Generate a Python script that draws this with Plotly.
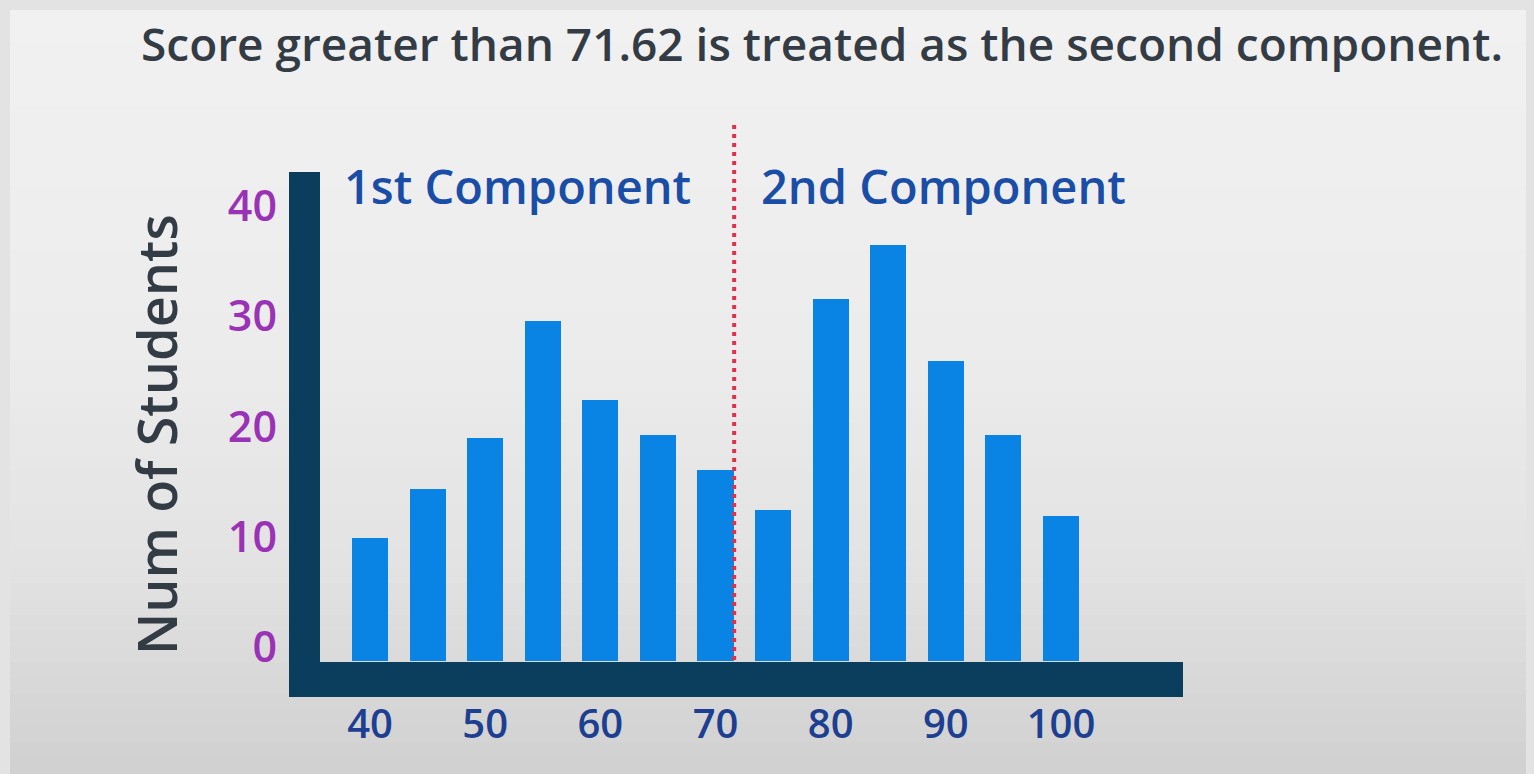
import plotly.graph_objects as go

# ---------------- data ----------------
scores = [40, 45, 50, 55, 60, 65, 70, 75, 80, 85, 90, 95, 100]
students = [9.9, 14.3, 19.0, 29.6, 22.4, 19.2, 16.1, 12.4, 31.6, 36.5, 25.9, 19.2, 11.9]
x_ticks = [40, 50, 60, 70, 80, 90, 100]
y_ticks = [0, 10, 20, 30, 40]
threshold = 71.62
title_text = "Score greater than 71.62 is treated as the second component."
component_labels = ["1st Component", "2nd Component"]
y_title = "Num of Students"

# ---------------- layout geometry (page pixels) ----------------
W, H = 1534, 774
OFF = 8                      # default body margin of the html page
FW, FH = W - OFF, H - OFF    # figure size
L, R, T, B = 289, 1183, 110, 697   # plot area in page pixels
pw, ph = R - L, B - T


def px(xp):
    return (xp - L) / pw


def py(yp):
    return (B - yp) / ph


FONT = "Open Sans"
BAR_COLOR = "#0a84e4"
AXIS_COLOR = "#0b3d5d"
BAR_BASE = -1.27   # bars start just under the zero line, at the axis bar

fig = go.Figure()
fig.add_trace(go.Bar(
    x=scores, y=[v - BAR_BASE for v in students], base=BAR_BASE, width=3.13,
    marker=dict(color=BAR_COLOR, line=dict(width=0)),
    customdata=students, hovertemplate="%{x}: %{customdata}<extra></extra>",
))

shapes = []
# background paper gradient (bands)
stops = [(10, 241), (350, 236), (560, 227), (774, 208)]
nb = 48
for i in range(nb):
    y0p = 10 + (H - 10) * i / nb
    y1p = 10 + (H - 10) * (i + 1) / nb
    ym = (y0p + y1p) / 2
    for (a, ga), (b, gb) in zip(stops[:-1], stops[1:]):
        if a <= ym <= b:
            g = round(ga + (gb - ga) * (ym - a) / (b - a))
            break
    shapes.append(dict(type="rect", xref="paper", yref="paper", layer="below",
                       x0=px(10), x1=px(W + 5), y0=py(y1p + 0.6), y1=py(y0p),
                       fillcolor=f"rgb({g},{g},{g})", line=dict(width=0)))
# thick axes
shapes.append(dict(type="rect", xref="paper", yref="paper", layer="above",
                   x0=0, x1=px(320), y0=0, y1=py(172),
                   fillcolor=AXIS_COLOR, line=dict(width=0)))
shapes.append(dict(type="rect", xref="paper", yref="paper", layer="above",
                   x0=0, x1=1, y0=0, y1=py(662),
                   fillcolor=AXIS_COLOR, line=dict(width=0)))
# threshold dotted line
shapes.append(dict(type="line", xref="x", yref="paper",
                   x0=threshold, x1=threshold, y0=py(660), y1=py(122),
                   line=dict(color="#e0304a", width=4, dash="4px,5px")))

annotations = [
    dict(text=title_text, xref="paper", yref="paper", x=px(139), y=py(43),
         xanchor="left", yanchor="middle", showarrow=False,
         font=dict(family=FONT, size=46, color="#333c44", weight=600)),
    dict(text=component_labels[0], xref="x", yref="paper", x=37.6, y=py(186),
         xanchor="left", yanchor="middle", showarrow=False,
         font=dict(family=FONT, size=47, color="#1a4ea6", weight=600)),
    dict(text=component_labels[1], xref="x", yref="paper", x=73.78, y=py(186),
         xanchor="left", yanchor="middle", showarrow=False,
         font=dict(family=FONT, size=47, color="#1a4ea6", weight=600)),
    dict(text=y_title, xref="paper", yref="paper", x=px(156), y=py(435),
         xanchor="center", yanchor="middle", textangle=-90, showarrow=False,
         font=dict(family=FONT, size=54, color="#333c44", weight=600)),
]

fig.update_layout(
    width=FW, height=FH,
    margin=dict(l=L - OFF, r=FW - (R - OFF), t=T - OFF, b=FH - (B - OFF), pad=0),
    paper_bgcolor="#e3e3e3",
    plot_bgcolor="rgba(0,0,0,0)",
    showlegend=False,
    shapes=shapes,
    annotations=annotations,
    bargap=0,
)
fig.update_xaxes(range=[32.967, 110.59], tickvals=x_ticks, ticktext=[str(v) for v in x_ticks],
                 showgrid=False, zeroline=False, showline=False, ticks="",
                 ticklabelstandoff=0,
                 tickfont=dict(family=FONT, size=40, color="#1c3f91", weight=600))
fig.update_yaxes(range=[-4.535, 48.707], tickvals=y_ticks, ticktext=[str(v) for v in y_ticks],
                 showgrid=False, zeroline=False, showline=False, ticks="",
                 ticklabelstandoff=11,
                 tickfont=dict(family=FONT, size=43, color="#9a32b5", weight=600))

fig.write_html("out.html", post_script="document.body.style.background='#e3e3e3';")
